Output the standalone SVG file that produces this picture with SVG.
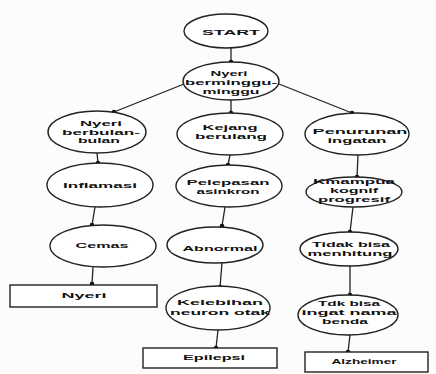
<svg xmlns="http://www.w3.org/2000/svg" width="436" height="374" viewBox="0 0 436 374">
<style>
.n ellipse,.n rect{fill:#fff;stroke:#222;stroke-width:1.4}
.n text{font-family:"Liberation Sans",Arial,sans-serif;font-weight:bold;font-size:7.4px;fill:#111;text-anchor:middle}
.c line{stroke:#222;stroke-width:1.3}
.c circle{fill:#111}
</style>
<rect width="436" height="374" fill="#fcfcfc"/>
<g class="c">
<line x1="231" y1="48" x2="231" y2="62"/><circle cx="231" cy="62" r="2.3"/>
<line x1="184" y1="84" x2="114" y2="112"/><circle cx="114" cy="112" r="2.3"/>
<line x1="231" y1="100" x2="231" y2="113"/><circle cx="231" cy="113" r="2.3"/>
<line x1="279" y1="84" x2="352" y2="113"/><circle cx="352" cy="113" r="2.3"/>
<line x1="97" y1="153" x2="98" y2="163"/><circle cx="98" cy="163" r="2.3"/>
<line x1="95" y1="207" x2="92" y2="225"/><circle cx="92" cy="225" r="2.3"/>
<line x1="93" y1="267" x2="92" y2="284"/><circle cx="92" cy="284" r="2.3"/>
<line x1="230" y1="155" x2="228" y2="165"/><circle cx="228" cy="165" r="2.3"/>
<line x1="225" y1="207" x2="222" y2="226"/><circle cx="222" cy="226" r="2.3"/>
<line x1="222" y1="263" x2="220" y2="287"/><circle cx="220" cy="287" r="2.3"/>
<line x1="218" y1="330" x2="216" y2="348"/><circle cx="216" cy="348" r="2.3"/>
<line x1="358" y1="155" x2="357" y2="177"/><circle cx="357" cy="177" r="2.3"/>
<line x1="353" y1="207" x2="350" y2="232"/><circle cx="350" cy="232" r="2.3"/>
<line x1="350" y1="266" x2="350" y2="295"/><circle cx="350" cy="295" r="2.3"/>
<line x1="350" y1="335" x2="348" y2="352"/><circle cx="348" cy="352" r="2.3"/>
</g>
<g id="start" class="n"><ellipse cx="226" cy="31" rx="42" ry="17"/><text x="231" y="35" textLength="58" lengthAdjust="spacingAndGlyphs">START</text></g>
<g id="nyeri-minggu" class="n"><ellipse cx="231" cy="81" rx="48" ry="19"/><text x="229" y="76" textLength="37" lengthAdjust="spacingAndGlyphs">Nyeri</text><text x="231" y="85" textLength="92" lengthAdjust="spacingAndGlyphs">berminggu-</text><text x="231" y="94" textLength="57" lengthAdjust="spacingAndGlyphs">minggu</text></g>
<g id="nyeri-bulan" class="n"><ellipse cx="97" cy="132" rx="49" ry="21"/><text x="101" y="126" textLength="42" lengthAdjust="spacingAndGlyphs">Nyeri</text><text x="101" y="135" textLength="78" lengthAdjust="spacingAndGlyphs">berbulan-</text><text x="99" y="143" textLength="42" lengthAdjust="spacingAndGlyphs">bulan</text></g>
<g id="kejang" class="n"><ellipse cx="230" cy="134" rx="53" ry="21"/><text x="230" y="130" textLength="55" lengthAdjust="spacingAndGlyphs">Kejang</text><text x="231" y="139" textLength="72" lengthAdjust="spacingAndGlyphs">berulang</text></g>
<g id="penurunan" class="n"><ellipse cx="357" cy="134" rx="52" ry="21"/><text x="360" y="134" textLength="95" lengthAdjust="spacingAndGlyphs">Penurunan</text><text x="357" y="143" textLength="59" lengthAdjust="spacingAndGlyphs">ingatan</text></g>
<g id="inflamasi" class="n"><ellipse cx="100" cy="185" rx="53" ry="22"/><text x="100" y="188" textLength="74" lengthAdjust="spacingAndGlyphs">Inflamasi</text></g>
<g id="pelepasan" class="n"><ellipse cx="229" cy="186" rx="53" ry="21"/><text x="228" y="185" textLength="83" lengthAdjust="spacingAndGlyphs">Pelepasan</text><text x="228" y="194" textLength="63" lengthAdjust="spacingAndGlyphs">asinkron</text></g>
<g id="kemampuan" class="n"><ellipse cx="354" cy="192" rx="48" ry="15"/><text x="354" y="184" textLength="82" lengthAdjust="spacingAndGlyphs">Kmampua</text><text x="354" y="193" textLength="48" lengthAdjust="spacingAndGlyphs">kognif</text><text x="354" y="202" textLength="72" lengthAdjust="spacingAndGlyphs">progresif</text></g>
<g id="cemas" class="n"><ellipse cx="103" cy="246" rx="53" ry="21"/><text x="102" y="248" textLength="53" lengthAdjust="spacingAndGlyphs">Cemas</text></g>
<g id="abnormal" class="n"><ellipse cx="215" cy="245" rx="48" ry="18"/><text x="220" y="251" textLength="75" lengthAdjust="spacingAndGlyphs">Abnormal</text></g>
<g id="tidak-menghitung" class="n"><ellipse cx="349" cy="249" rx="49" ry="17"/><text x="351" y="247" textLength="78" lengthAdjust="spacingAndGlyphs">Tidak bisa</text><text x="350" y="256" textLength="85" lengthAdjust="spacingAndGlyphs">menhitung</text></g>
<g id="nyeri" class="n"><rect x="10" y="285" width="147" height="22"/><text x="84" y="298" textLength="45" lengthAdjust="spacingAndGlyphs">Nyeri</text></g>
<g id="kelebihan" class="n"><ellipse cx="218" cy="308" rx="52" ry="22"/><text x="220" y="305" textLength="86" lengthAdjust="spacingAndGlyphs">Kelebihan</text><text x="220" y="315" textLength="100" lengthAdjust="spacingAndGlyphs">neuron otak</text></g>
<g id="tdk-ingat" class="n"><ellipse cx="348" cy="315" rx="50" ry="20"/><text x="349" y="306" textLength="62" lengthAdjust="spacingAndGlyphs">Tdk bisa</text><text x="349" y="315" textLength="95" lengthAdjust="spacingAndGlyphs">ingat nama</text><text x="345" y="324" textLength="46" lengthAdjust="spacingAndGlyphs">benda</text></g>
<g id="epilepsi" class="n"><rect x="143" y="348" width="134" height="20"/><text x="214" y="360" textLength="62" lengthAdjust="spacingAndGlyphs">Epilepsi</text></g>
<g id="alzheimer" class="n"><rect x="305" y="352" width="123" height="20"/><text x="364" y="364" textLength="65" lengthAdjust="spacingAndGlyphs">Alzheimer</text></g>
</svg>
